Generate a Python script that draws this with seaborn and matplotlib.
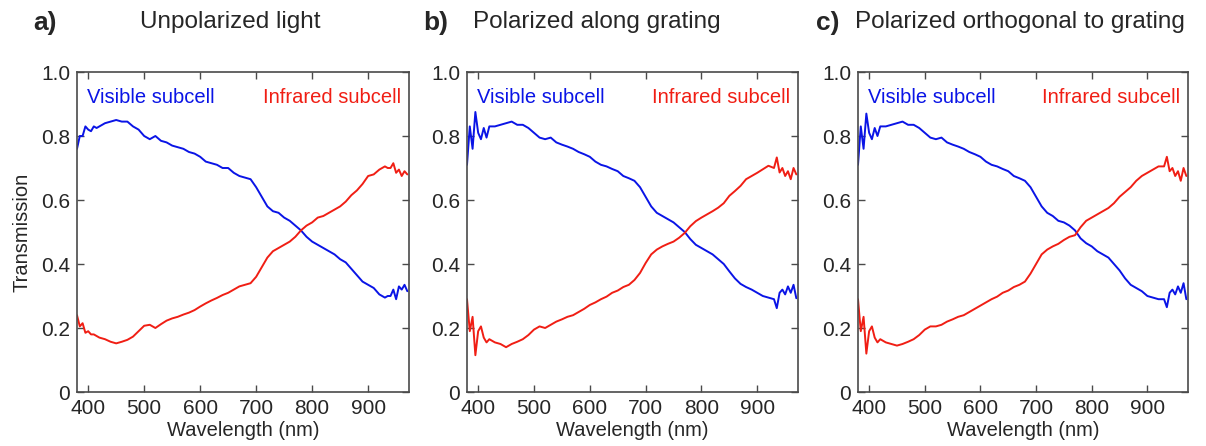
import numpy as np
import pandas as pd
import matplotlib
matplotlib.use("Agg")
import matplotlib.pyplot as plt
import seaborn as sns

# ---------------- data ----------------
wavelength = [380, 385, 390, 395, 400, 405, 410, 415, 420, 430, 440, 450, 460, 470,
              480, 490, 500, 510, 520, 530, 540, 550, 560, 570, 580, 590, 600,
              610, 620, 630, 640, 650, 660, 670, 680, 690, 700, 710, 720, 730,
              740, 750, 760, 770, 780, 790, 800, 810, 820, 830, 840, 850, 860,
              870, 880, 890, 900, 910, 920, 930, 935, 940, 945, 950, 955, 960,
              965, 970]

vis_a = [0.76, 0.80, 0.80, 0.83, 0.82, 0.815, 0.83, 0.825, 0.83, 0.84, 0.845, 0.85,
         0.845, 0.845, 0.83, 0.82, 0.80, 0.79, 0.80, 0.785, 0.78, 0.77, 0.765,
         0.76, 0.75, 0.745, 0.735, 0.72, 0.715, 0.71, 0.70, 0.70, 0.685, 0.675,
         0.67, 0.665, 0.64, 0.61, 0.58, 0.565, 0.56, 0.545, 0.535, 0.52, 0.505,
         0.485, 0.47, 0.46, 0.45, 0.44, 0.43, 0.415, 0.405, 0.385, 0.365, 0.345,
         0.335, 0.325, 0.305, 0.295, 0.30, 0.30, 0.32, 0.29, 0.33, 0.32, 0.335, 0.315]
ir_a = [0.24, 0.205, 0.215, 0.185, 0.19, 0.18, 0.18, 0.175, 0.17, 0.165, 0.157, 0.152,
        0.157, 0.163, 0.173, 0.19, 0.207, 0.21, 0.20, 0.212, 0.223, 0.23, 0.235,
        0.242, 0.248, 0.256, 0.267, 0.277, 0.286, 0.294, 0.303, 0.31, 0.32, 0.33,
        0.335, 0.34, 0.36, 0.39, 0.42, 0.44, 0.45, 0.46, 0.47, 0.485, 0.505, 0.52,
        0.53, 0.545, 0.55, 0.56, 0.57, 0.58, 0.595, 0.615, 0.63, 0.65, 0.675,
        0.68, 0.695, 0.705, 0.70, 0.70, 0.715, 0.685, 0.695, 0.675, 0.69, 0.68]

vis_b = [0.71, 0.83, 0.76, 0.875, 0.81, 0.79, 0.825, 0.795, 0.83, 0.83, 0.835, 0.84,
         0.845, 0.835, 0.835, 0.825, 0.81, 0.795, 0.79, 0.795, 0.78, 0.773, 0.767,
         0.76, 0.75, 0.743, 0.735, 0.72, 0.71, 0.705, 0.697, 0.69, 0.675, 0.668,
         0.66, 0.64, 0.61, 0.58, 0.56, 0.55, 0.54, 0.53, 0.515, 0.50, 0.478, 0.46,
         0.45, 0.44, 0.43, 0.415, 0.40, 0.377, 0.355, 0.338, 0.328, 0.32, 0.31,
         0.30, 0.295, 0.29, 0.262, 0.31, 0.32, 0.305, 0.33, 0.31, 0.335, 0.293]
ir_b = [0.29, 0.19, 0.235, 0.115, 0.19, 0.205, 0.17, 0.155, 0.165, 0.155, 0.15, 0.14,
        0.15, 0.157, 0.165, 0.178, 0.195, 0.205, 0.20, 0.21, 0.22, 0.227, 0.235,
        0.24, 0.25, 0.26, 0.272, 0.28, 0.29, 0.298, 0.31, 0.317, 0.328, 0.335,
        0.35, 0.372, 0.403, 0.43, 0.445, 0.455, 0.463, 0.47, 0.482, 0.497, 0.518,
        0.534, 0.545, 0.555, 0.565, 0.576, 0.59, 0.613, 0.628, 0.644, 0.665,
        0.675, 0.685, 0.696, 0.707, 0.70, 0.733, 0.686, 0.70, 0.675, 0.69, 0.665,
        0.70, 0.68]

vis_c = [0.71, 0.83, 0.76, 0.87, 0.81, 0.79, 0.825, 0.80, 0.83, 0.83, 0.835, 0.84,
         0.845, 0.835, 0.835, 0.825, 0.81, 0.795, 0.79, 0.795, 0.78, 0.773, 0.767,
         0.76, 0.75, 0.743, 0.735, 0.72, 0.71, 0.705, 0.697, 0.69, 0.675, 0.668,
         0.66, 0.64, 0.61, 0.58, 0.56, 0.55, 0.535, 0.53, 0.52, 0.505, 0.48, 0.465,
         0.455, 0.44, 0.43, 0.42, 0.40, 0.38, 0.355, 0.335, 0.325, 0.315, 0.30,
         0.295, 0.29, 0.29, 0.265, 0.31, 0.32, 0.305, 0.33, 0.31, 0.34, 0.29]
ir_c = [0.29, 0.19, 0.235, 0.12, 0.19, 0.205, 0.17, 0.155, 0.165, 0.155, 0.15, 0.145,
        0.15, 0.157, 0.165, 0.178, 0.195, 0.205, 0.205, 0.21, 0.22, 0.227, 0.235,
        0.24, 0.25, 0.26, 0.27, 0.28, 0.29, 0.298, 0.31, 0.317, 0.328, 0.335,
        0.345, 0.37, 0.40, 0.43, 0.445, 0.455, 0.463, 0.475, 0.485, 0.49, 0.515,
        0.535, 0.545, 0.555, 0.565, 0.575, 0.59, 0.61, 0.625, 0.64, 0.66,
        0.675, 0.685, 0.695, 0.705, 0.705, 0.735, 0.69, 0.70, 0.675, 0.69, 0.66,
        0.70, 0.675]

panel_letters = ["a)", "b)", "c)"]
panel_titles = ["Unpolarized light", "Polarized along grating",
                "Polarized orthogonal to grating"]
visible_series = [vis_a, vis_b, vis_c]
infrared_series = [ir_a, ir_b, ir_c]
series_labels = ["Visible subcell", "Infrared subcell"]
x_ticks = [400, 500, 600, 700, 800, 900]
y_ticks = [0, 0.2, 0.4, 0.6, 0.8, 1.0]
y_tick_labels = ["0", "0.2", "0.4", "0.6", "0.8", "1.0"]

# ---------------- style ----------------
sns.set_style("ticks")
plt.rcParams["font.family"] = ["Liberation Sans", "DejaVu Sans"]

W, H = 1206, 446
fig = plt.figure(figsize=(W / 100, H / 100), dpi=100)

frame_color = "#4a4a4a"
blue = "#0a14e6"
red = "#f01e14"

axes_px = [(77, 332), (467, 331), (858, 330)]
title_px = [(33, 140), (423, 473), (816, 855)]
bottom_px, top_px = 392, 72

for i in range(3):
    left, width = axes_px[i]
    ax = fig.add_axes([left / W, 1 - bottom_px / H, width / W, (bottom_px - top_px) / H])
    df = pd.DataFrame({"Wavelength": wavelength,
                       "Visible": visible_series[i],
                       "Infrared": infrared_series[i]})
    sns.lineplot(data=df, x="Wavelength", y="Visible", ax=ax, color=blue,
                 linewidth=1.4, estimator=None, sort=False)
    sns.lineplot(data=df, x="Wavelength", y="Infrared", ax=ax, color=red,
                 linewidth=1.4, estimator=None, sort=False)
    ax.set_xlim(380, 973)
    ax.set_ylim(0, 1.0)
    ax.set_xticks(x_ticks)
    ax.set_yticks(y_ticks)
    ax.set_yticklabels(y_tick_labels)
    ax.tick_params(direction="in", top=True, right=True, length=5, width=1,
                   color=frame_color, labelsize=15, pad=5)
    for s in ax.spines.values():
        s.set_color(frame_color)
        s.set_linewidth(1.2)
    ax.set_xlabel("Wavelength (nm)", fontsize=14.5, labelpad=2)
    if i == 0:
        ax.set_ylabel("Transmission", fontsize=14.5, labelpad=7)
    else:
        ax.set_ylabel("")
    ax.text(0.03, 0.92, series_labels[0], transform=ax.transAxes, color=blue,
            fontsize=14.5, ha="left", va="center")
    ax.text(0.975, 0.92, series_labels[1], transform=ax.transAxes, color=red,
            fontsize=14.5, ha="right", va="center")

    lx, tx = title_px[i]
    fig.text(lx / W, 1 - 23 / H, panel_letters[i], fontsize=19, fontweight="bold",
             ha="left", va="center")
    fig.text(tx / W, 1 - 22 / H, panel_titles[i], fontsize=17.5, ha="left", va="center")

fig.savefig("out.png", dpi=100)
